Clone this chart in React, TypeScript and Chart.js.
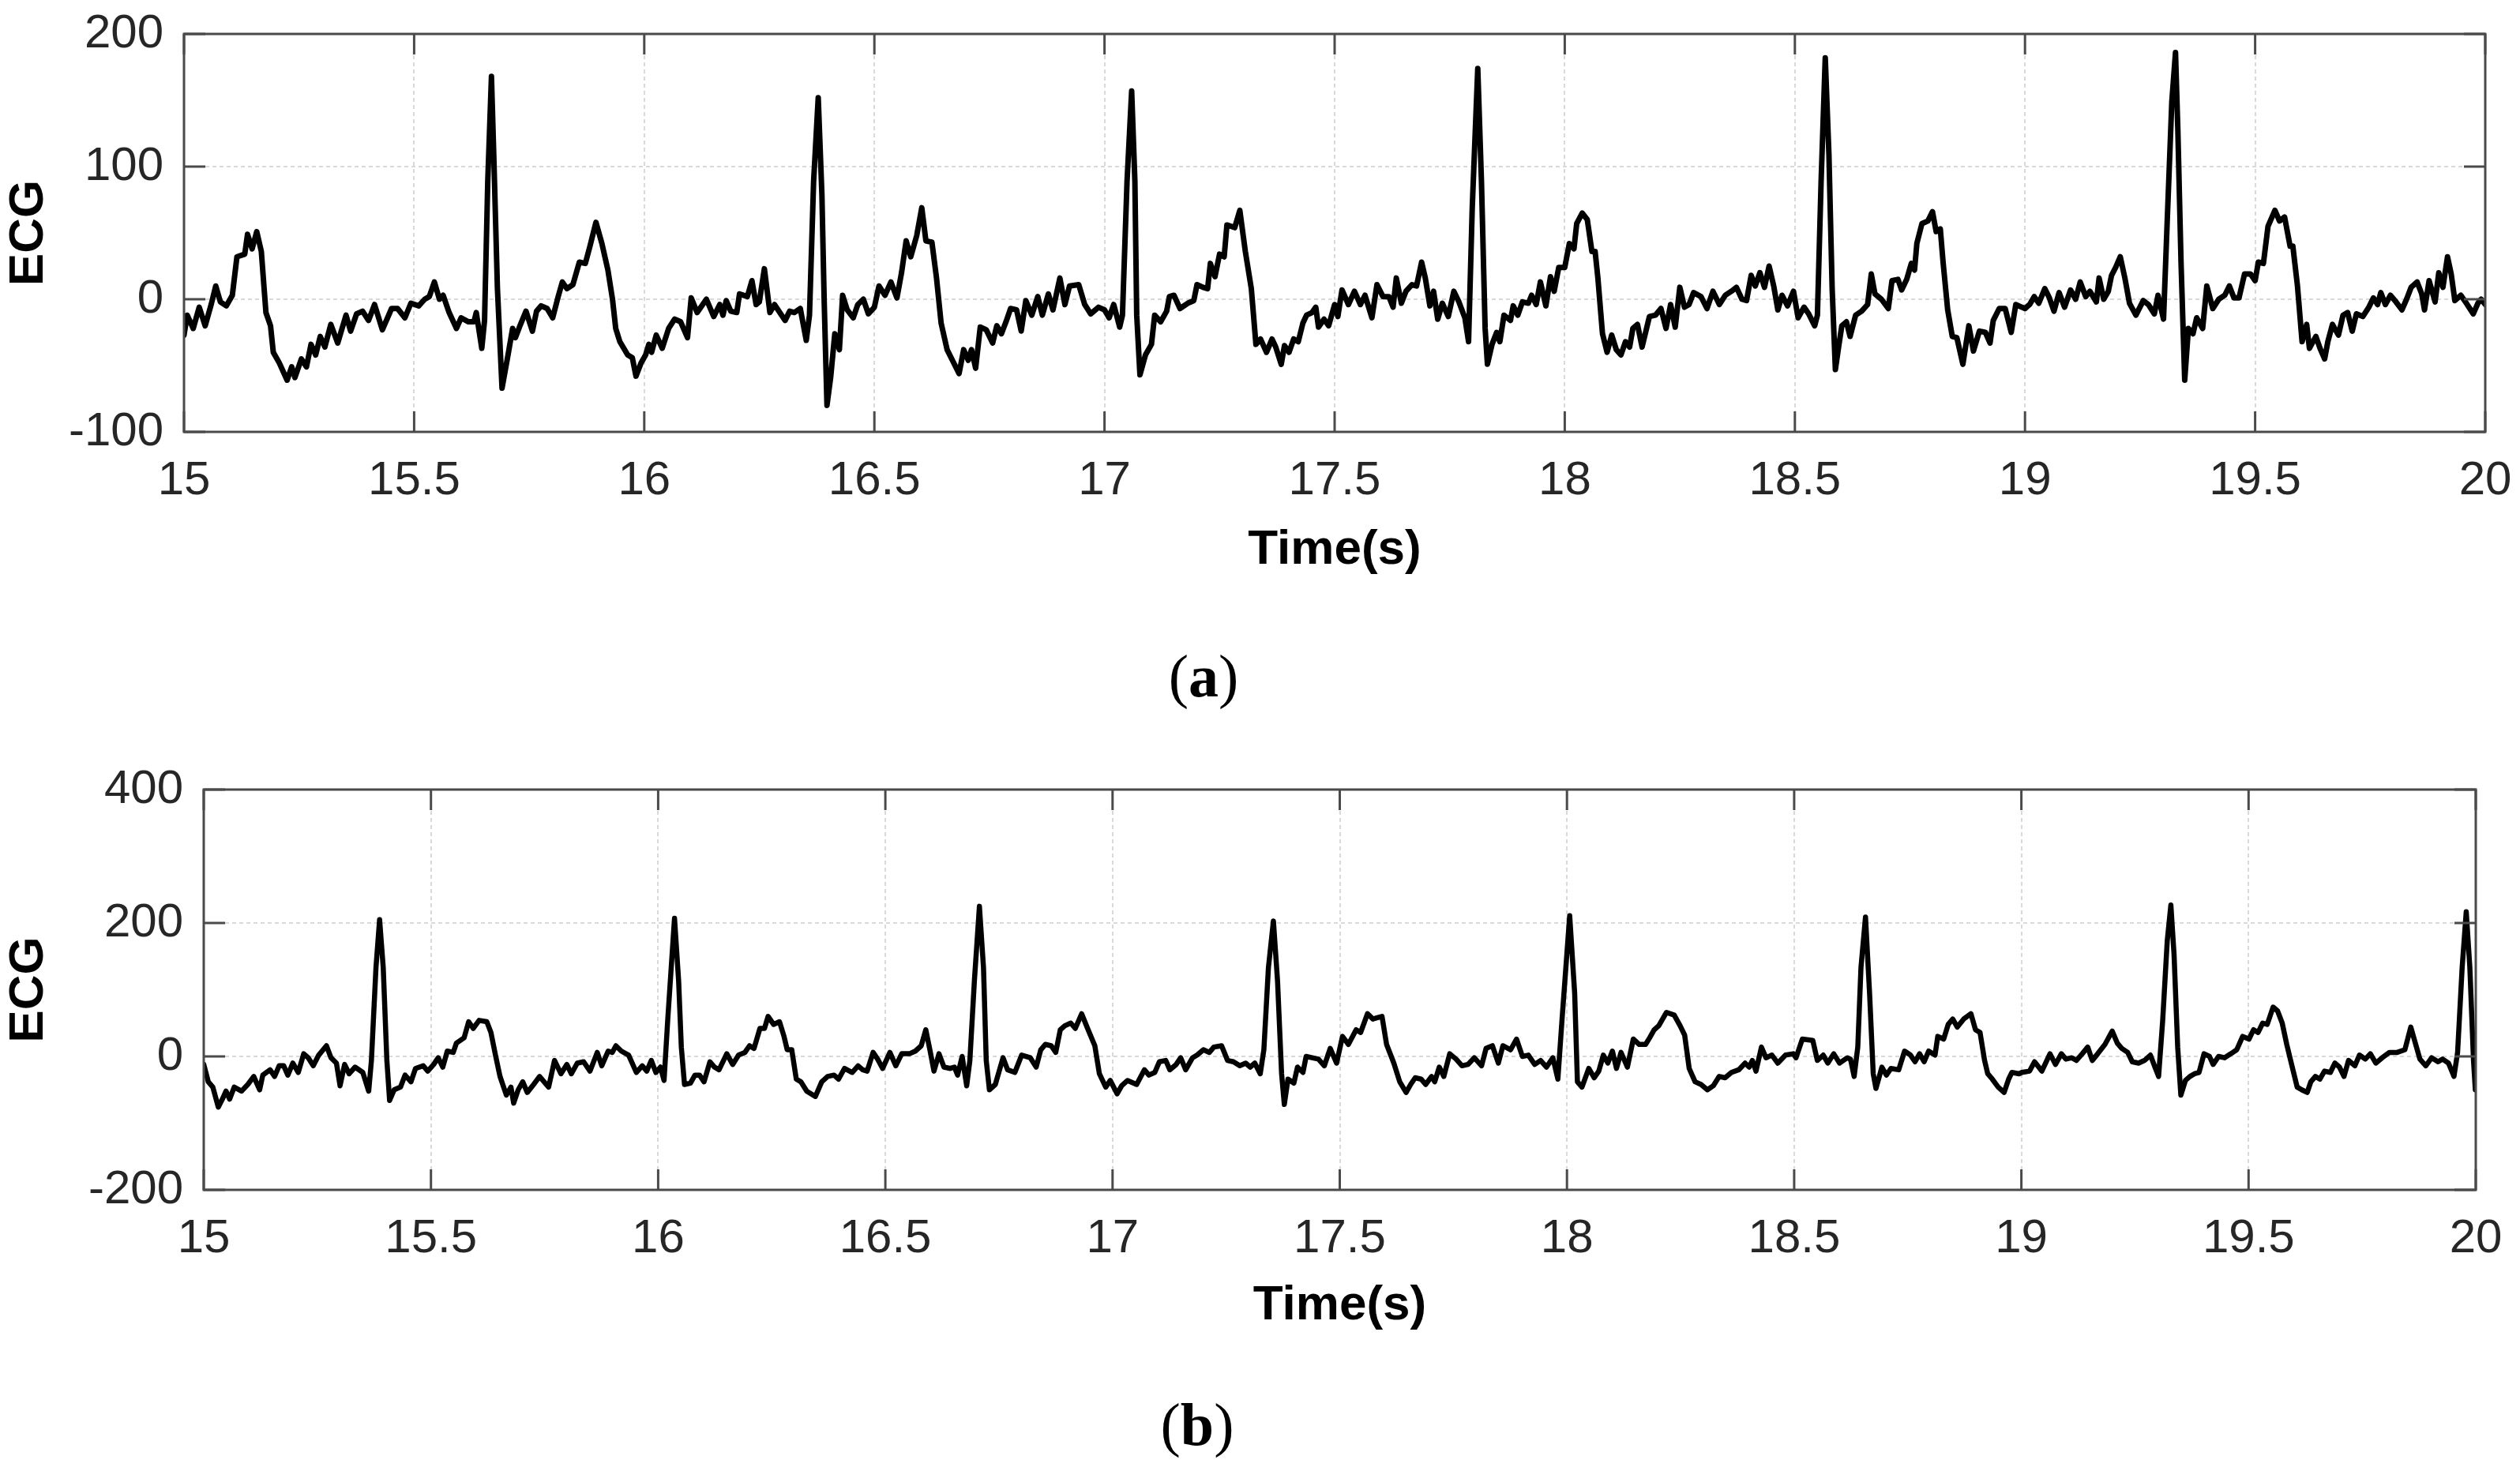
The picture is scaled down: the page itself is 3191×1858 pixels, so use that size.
import React, { useEffect, useRef } from 'react';
import { Chart, registerables } from 'chart.js';

Chart.register(...registerables);

// ECG traces, [time (s), amplitude]
const ecgA15: [number, number][] = [
  [15.000, -27], [15.007, -12], [15.020, -22], [15.033, -6], [15.046, -20], [15.059, -4], [15.069, 10], [15.079, -2],
  [15.092, -5], [15.105, 3], [15.115, 32], [15.132, 34], [15.138, 49], [15.148, 38], [15.158, 51], [15.168, 36],
  [15.178, -10], [15.188, -20], [15.194, -40], [15.207, -48], [15.224, -61], [15.234, -51], [15.241, -59], [15.255, -45],
  [15.266, -51], [15.276, -34], [15.286, -42], [15.296, -28], [15.306, -36], [15.319, -19], [15.334, -33], [15.352, -12],
  [15.362, -24], [15.375, -11], [15.388, -9], [15.401, -16], [15.414, -4], [15.431, -23], [15.451, -7], [15.464, -7],
  [15.480, -14], [15.493, -3], [15.510, -5], [15.523, 0], [15.533, 2], [15.544, 13], [15.555, 0], [15.563, 3],
  [15.576, -10], [15.592, -22], [15.602, -14], [15.618, -17], [15.630, -17], [15.635, -10], [15.647, -37], [15.653, -16],
  [15.660, 89], [15.668, 168], [15.673, 109], [15.681, 8], [15.691, -67], [15.704, -42], [15.714, -22], [15.720, -29],
  [15.730, -20], [15.743, -9], [15.757, -24], [15.766, -9], [15.776, -5], [15.789, -7], [15.801, -14], [15.813, 2],
  [15.822, 13], [15.832, 8], [15.845, 11], [15.859, 28], [15.872, 27], [15.882, 40], [15.895, 58], [15.908, 42],
  [15.921, 22], [15.931, 0], [15.938, -22], [15.947, -32], [15.964, -42], [15.974, -44], [15.982, -58], [15.993, -48],
];
const ecgA16: [number, number][] = [
  [16.003, -42], [16.010, -34], [16.016, -40], [16.026, -27], [16.039, -37], [16.053, -22], [16.066, -15], [16.079, -17],
  [16.094, -29], [16.102, 1], [16.115, -10], [16.135, 0], [16.151, -13], [16.164, -4], [16.171, -12], [16.178, -1],
  [16.188, -9], [16.201, -10], [16.207, 4], [16.224, 2], [16.234, 14], [16.243, -4], [16.250, -2], [16.261, 23],
  [16.273, -10], [16.283, -4], [16.306, -16], [16.316, -9], [16.326, -10], [16.339, -7], [16.352, -31], [16.359, -12],
  [16.368, 89], [16.378, 152], [16.386, 79], [16.391, -2], [16.397, -80], [16.405, -59], [16.414, -26], [16.424, -38],
  [16.431, 3], [16.441, -8], [16.454, -14], [16.464, -4], [16.476, 0], [16.487, -11], [16.500, -6], [16.510, 10],
  [16.523, 3], [16.536, 13], [16.549, 1], [16.559, 20], [16.569, 44], [16.579, 32], [16.592, 48], [16.603, 69],
  [16.612, 44], [16.625, 43], [16.635, 16], [16.645, -18], [16.658, -38], [16.671, -47], [16.684, -56], [16.694, -38],
  [16.704, -46], [16.711, -38], [16.720, -52], [16.730, -21], [16.743, -23], [16.757, -33], [16.766, -20], [16.776, -26],
  [16.786, -17], [16.796, -7], [16.809, -8], [16.819, -24], [16.829, -1], [16.842, -12], [16.855, 2], [16.865, -12],
  [16.878, 4], [16.888, -8], [16.903, 16], [16.914, -4], [16.924, 10], [16.944, 11], [16.957, -4], [16.970, -11],
  [16.987, -6],
];
const ecgA17: [number, number][] = [
  [17.000, -8], [17.010, -14], [17.020, -4], [17.033, -21], [17.039, -12], [17.049, 89], [17.059, 157], [17.066, 89],
  [17.070, -12], [17.077, -57], [17.089, -42], [17.102, -34], [17.109, -12], [17.122, -17], [17.135, -9], [17.141, 2],
  [17.151, 3], [17.164, -7], [17.181, -3], [17.194, -1], [17.201, 11], [17.214, 9], [17.224, 8], [17.230, 27],
  [17.240, 17], [17.250, 34], [17.260, 32], [17.266, 56], [17.283, 54], [17.294, 67], [17.306, 36], [17.319, 8],
  [17.329, -34], [17.339, -30], [17.352, -40], [17.364, -30], [17.372, -36], [17.384, -49], [17.391, -35], [17.401, -40],
  [17.411, -30], [17.421, -32], [17.431, -18], [17.439, -12], [17.451, -10], [17.459, -6], [17.465, -21], [17.477, -15],
  [17.487, -20], [17.500, -4], [17.507, -13], [17.516, 7], [17.530, -4], [17.543, 6], [17.556, -4], [17.566, 3],
  [17.581, -14], [17.592, 11], [17.605, 2], [17.618, 2], [17.627, -6], [17.634, 16], [17.645, -3], [17.655, 6],
  [17.668, 11], [17.678, 10], [17.689, 28], [17.697, 16], [17.707, -5], [17.715, 6], [17.724, -15], [17.734, -3],
  [17.747, -13], [17.759, 6], [17.770, -2], [17.783, -14], [17.791, -32], [17.799, 69], [17.811, 174], [17.819, 89],
  [17.827, -22], [17.832, -49], [17.842, -34], [17.852, -25], [17.859, -32], [17.868, -12], [17.882, -16], [17.888, -5],
  [17.898, -12], [17.908, -2], [17.921, -3], [17.928, 3], [17.938, -4], [17.947, 13], [17.959, -5], [17.969, 17],
  [17.977, 6], [17.987, 24],
];
const ecgA18: [number, number][] = [
  [18.000, 24], [18.010, 42], [18.020, 38], [18.026, 57], [18.038, 65], [18.049, 60], [18.059, 36], [18.066, 36],
  [18.072, 16], [18.082, -26], [18.092, -40], [18.102, -27], [18.112, -38], [18.122, -42], [18.132, -32], [18.141, -36],
  [18.148, -22], [18.158, -19], [18.168, -36], [18.184, -13], [18.197, -12], [18.209, -7], [18.220, -22], [18.230, -4],
  [18.240, -21], [18.250, 9], [18.260, -6], [18.270, -4], [18.280, 5], [18.296, 2], [18.309, -7], [18.322, 6],
  [18.336, -4], [18.349, 3], [18.362, 6], [18.373, 9], [18.385, 0], [18.395, -1], [18.405, 18], [18.414, 10],
  [18.424, 20], [18.434, 9], [18.444, 25], [18.454, 10], [18.463, -8], [18.472, 3], [18.484, -5], [18.497, 6],
  [18.507, -14], [18.520, -6], [18.530, -11], [18.543, -20], [18.549, -12], [18.557, 89], [18.566, 182], [18.574, 109],
  [18.581, 8], [18.588, -53], [18.595, -36], [18.602, -20], [18.612, -17], [18.620, -28], [18.632, -12], [18.645, -9],
  [18.658, -4], [18.666, 19], [18.674, 4], [18.688, 0], [18.703, -7], [18.711, 14], [18.724, 15], [18.732, 7],
  [18.743, 15], [18.753, 27], [18.760, 22], [18.765, 42], [18.776, 57], [18.789, 59], [18.799, 66], [18.807, 51],
  [18.816, 53], [18.822, 28], [18.832, -8], [18.842, -28], [18.852, -29], [18.865, -49], [18.878, -20], [18.888, -39],
  [18.901, -24], [18.914, -25], [18.924, -33], [18.931, -16], [18.944, -7], [18.957, -7], [18.970, -25], [18.980, -4],
  [18.993, -6],
];
const ecgA19: [number, number][] = [
  [19.000, -7], [19.010, -4], [19.020, 2], [19.030, -3], [19.043, 8], [19.053, 1], [19.063, -9], [19.074, 5],
  [19.086, -6], [19.099, 7], [19.110, 0], [19.120, 13], [19.132, 2], [19.141, 6], [19.155, -2], [19.161, 16],
  [19.171, 0], [19.181, 6], [19.188, 18], [19.197, 24], [19.207, 32], [19.217, 16], [19.227, -3], [19.241, -12],
  [19.257, -1], [19.268, -4], [19.281, -11], [19.289, 3], [19.301, -15], [19.309, 59], [19.319, 149], [19.327, 186],
  [19.332, 129], [19.339, 28], [19.347, -61], [19.355, -22], [19.365, -26], [19.373, -14], [19.386, -22], [19.395, 10],
  [19.408, -7], [19.421, 0], [19.434, 3], [19.444, 10], [19.454, 1], [19.465, 1], [19.477, 19], [19.490, 19],
  [19.500, 14], [19.507, 28], [19.518, 27], [19.528, 55], [19.543, 67], [19.553, 59], [19.564, 62], [19.576, 40],
  [19.582, 40], [19.592, 10], [19.602, -32], [19.612, -19], [19.618, -37], [19.632, -28], [19.641, -37], [19.651, -45],
  [19.658, -32], [19.668, -19], [19.681, -27], [19.691, -12], [19.701, -10], [19.711, -24], [19.720, -11], [19.734, -13],
  [19.747, -6], [19.757, 1], [19.766, -4], [19.773, 5], [19.783, -4], [19.794, 3], [19.806, -2], [19.819, -8],
  [19.829, 0], [19.839, 9], [19.852, 13], [19.862, 4], [19.868, -8], [19.878, 14], [19.891, -2], [19.899, 20],
  [19.908, 9], [19.918, 32], [19.926, 19], [19.934, -1], [19.947, 3], [19.959, -3], [19.974, -11], [19.984, -3],
  [19.991, 0], [20.000, -4],
];

const ecgB15: [number, number][] = [
  [15.000, -12], [15.010, -38], [15.020, -46], [15.032, -76], [15.041, -64], [15.049, -52], [15.057, -64], [15.067, -46],
  [15.083, -52], [15.097, -42], [15.110, -30], [15.123, -50], [15.130, -28], [15.146, -20], [15.156, -30], [15.166, -14],
  [15.176, -14], [15.185, -28], [15.196, -10], [15.208, -24], [15.220, 4], [15.230, -2], [15.241, -14], [15.253, 2],
  [15.270, 16], [15.280, -2], [15.292, -10], [15.300, -44], [15.310, -12], [15.320, -26], [15.333, -16], [15.350, -24],
  [15.363, -52], [15.369, -6], [15.379, 133], [15.387, 205], [15.395, 133], [15.403, -6], [15.409, -66], [15.419, -50],
  [15.433, -46], [15.443, -28], [15.456, -38], [15.466, -18], [15.483, -14], [15.493, -22], [15.506, -12], [15.516, -2],
  [15.526, -16], [15.536, 8], [15.549, 6], [15.556, 20], [15.573, 28], [15.583, 52], [15.593, 42], [15.606, 54],
  [15.623, 52], [15.632, 36], [15.642, 2], [15.652, -30], [15.666, -58], [15.676, -46], [15.682, -70], [15.692, -50],
  [15.702, -38], [15.712, -54], [15.726, -42], [15.739, -30], [15.759, -46], [15.772, -6], [15.786, -26], [15.799, -12],
  [15.809, -26], [15.822, -10], [15.836, -8], [15.850, -22], [15.866, 6], [15.876, -14], [15.890, 8], [15.899, 6],
  [15.907, 16], [15.919, 8], [15.935, 2], [15.952, -24], [15.965, -14], [15.975, -22], [15.985, -6], [15.995, -24],
];
const ecgB16: [number, number][] = [
  [16.005, -16], [16.013, -36], [16.021, 54], [16.036, 207], [16.045, 114], [16.051, 14], [16.058, -42], [16.071, -40],
  [16.081, -28], [16.091, -28], [16.101, -38], [16.114, -8], [16.124, -16], [16.134, -20], [16.151, 4], [16.164, -12],
  [16.177, 2], [16.191, 6], [16.201, 16], [16.211, 12], [16.224, 42], [16.234, 42], [16.242, 60], [16.254, 48],
  [16.267, 52], [16.277, 30], [16.284, 10], [16.294, 10], [16.304, -34], [16.314, -38], [16.327, -52], [16.346, -60],
  [16.360, -38], [16.373, -30], [16.387, -28], [16.397, -34], [16.410, -18], [16.427, -24], [16.440, -14], [16.450, -20],
  [16.460, -22], [16.473, 6], [16.483, -4], [16.494, -18], [16.510, 6], [16.523, -14], [16.536, 4], [16.553, 4],
  [16.566, 8], [16.579, 16], [16.589, 40], [16.598, 10], [16.607, -22], [16.618, 4], [16.629, -16], [16.643, -18],
  [16.652, -16], [16.659, -28], [16.669, 0], [16.679, -44], [16.686, -6], [16.696, 114], [16.707, 225], [16.716, 133],
  [16.722, -6], [16.729, -50], [16.742, -42], [16.759, -2], [16.769, -20], [16.785, -24], [16.800, 2], [16.819, -2],
  [16.832, -16], [16.842, 10], [16.852, 18], [16.865, 16], [16.875, 6], [16.885, 40], [16.895, 46], [16.908, 50],
  [16.918, 42], [16.932, 64], [16.945, 42], [16.961, 16], [16.971, -26], [16.985, -46], [16.995, -36],
];
const ecgB17: [number, number][] = [
  [17.010, -56], [17.020, -44], [17.033, -36], [17.053, -42], [17.070, -20], [17.080, -28], [17.093, -24], [17.103, -8],
  [17.117, -6], [17.126, -20], [17.140, -12], [17.150, -2], [17.161, -20], [17.176, -2], [17.186, 2], [17.200, 10],
  [17.213, 6], [17.223, 14], [17.240, 16], [17.253, -6], [17.266, -8], [17.280, -14], [17.293, -10], [17.303, -16],
  [17.313, -10], [17.325, -26], [17.333, 10], [17.343, 133], [17.354, 203], [17.363, 114], [17.372, -26], [17.378, -72],
  [17.386, -34], [17.399, -40], [17.407, -16], [17.419, -24], [17.426, 0], [17.439, -2], [17.453, -4], [17.466, -14],
  [17.479, 12], [17.493, -10], [17.506, 30], [17.519, 18], [17.536, 40], [17.546, 36], [17.561, 64], [17.573, 56],
  [17.583, 58], [17.593, 60], [17.603, 18], [17.619, -10], [17.632, -38], [17.646, -54], [17.656, -42], [17.666, -32],
  [17.679, -34], [17.689, -42], [17.702, -30], [17.709, -38], [17.719, -16], [17.729, -30], [17.742, 4], [17.756, -4],
  [17.769, -14], [17.782, -12], [17.796, -2], [17.812, -14], [17.822, 12], [17.836, 16], [17.849, -10], [17.859, 16],
  [17.876, 10], [17.889, 26], [17.902, 0], [17.915, 2], [17.929, -12], [17.942, -6], [17.955, -16], [17.969, -2],
  [17.980, -34], [17.989, 54],
];
const ecgB18: [number, number][] = [
  [18.006, 211], [18.017, 94], [18.023, -38], [18.033, -46], [18.048, -18], [18.060, -32], [18.070, -22], [18.080, 2],
  [18.090, -10], [18.100, 8], [18.109, -18], [18.119, 6], [18.133, -16], [18.146, 26], [18.159, 18], [18.173, 18],
  [18.182, 28], [18.192, 40], [18.202, 46], [18.219, 66], [18.236, 62], [18.249, 46], [18.259, 32], [18.269, -18],
  [18.282, -38], [18.295, -42], [18.309, -50], [18.322, -44], [18.335, -30], [18.348, -32], [18.362, -24], [18.378, -20],
  [18.392, -10], [18.401, -16], [18.408, -6], [18.416, -22], [18.428, 14], [18.438, -2], [18.451, 2], [18.464, -10],
  [18.481, 2], [18.498, 4], [18.504, -2], [18.518, 26], [18.541, 24], [18.551, -6], [18.564, 2], [18.574, -10],
  [18.587, 4], [18.600, -10], [18.617, -2], [18.624, -4], [18.632, -30], [18.640, 14], [18.647, 133], [18.657, 209],
  [18.666, 94], [18.674, -26], [18.680, -48], [18.693, -16], [18.703, -28], [18.713, -18], [18.730, -20], [18.743, 8],
  [18.756, 2], [18.766, -8], [18.776, 4], [18.786, -8], [18.796, 8], [18.810, 2], [18.816, 30], [18.829, 26],
  [18.839, 48], [18.849, 56], [18.859, 44], [18.873, 56], [18.889, 64], [18.899, 40], [18.909, 36], [18.919, -6],
  [18.926, -26], [18.936, -34], [18.949, -46], [18.962, -54], [18.972, -34], [18.979, -24], [18.995, -26],
];
const ecgB19: [number, number][] = [
  [19.001, -24], [19.018, -22], [19.029, -8], [19.045, -22], [19.063, 4], [19.075, -12], [19.088, 4], [19.098, -4],
  [19.111, -2], [19.121, -6], [19.134, 4], [19.146, 14], [19.156, -6], [19.168, 4], [19.184, 18], [19.200, 38],
  [19.211, 20], [19.221, 12], [19.234, 6], [19.244, -8], [19.258, -10], [19.271, -6], [19.284, 2], [19.294, -16],
  [19.302, -30], [19.311, 54], [19.321, 173], [19.329, 227], [19.336, 153], [19.344, 14], [19.351, -58], [19.361, -36],
  [19.371, -30], [19.381, -26], [19.391, -24], [19.402, 4], [19.414, 0], [19.422, -12], [19.434, 0], [19.447, -2],
  [19.461, 4], [19.474, 10], [19.487, 30], [19.501, 26], [19.511, 40], [19.521, 36], [19.531, 50], [19.541, 48],
  [19.554, 74], [19.564, 68], [19.574, 50], [19.584, 18], [19.594, -10], [19.607, -46], [19.617, -50], [19.629, -54],
  [19.637, -38], [19.647, -30], [19.657, -34], [19.667, -22], [19.680, -24], [19.690, -10], [19.700, -16], [19.710, -30],
  [19.720, -6], [19.734, -14], [19.744, 2], [19.757, -4], [19.768, 4], [19.780, -10], [19.794, -2], [19.810, 6],
  [19.827, 6], [19.844, 10], [19.857, 44], [19.867, 20], [19.877, -4], [19.890, -14], [19.903, -2], [19.917, -8],
  [19.927, -4], [19.940, -10], [19.952, -30], [19.960, 6], [19.970, 133], [19.979, 217], [19.987, 133], [19.995, -6],
  [19.999, -50],
];

const timeTicks = [15, 15.5, 16, 16.5, 17, 17.5, 18, 18.5, 19, 19.5, 20];
const ecgTicksA = [-100, 0, 100, 200];
const ecgTicksB = [-200, 0, 200, 400];

const seriesA = [...ecgA15, ...ecgA16, ...ecgA17, ...ecgA18, ...ecgA19];
const seriesB = [...ecgB15, ...ecgB16, ...ecgB17, ...ecgB18, ...ecgB19];

const TICK_FONT = { family: "'Liberation Sans', Arial, sans-serif", size: 60 };
const TITLE_FONT = { family: "'Liberation Sans', Arial, sans-serif", size: 62, weight: 'bold' as const };
const INK = '#262626';

// box around the plot with MATLAB-style inward tick marks on all four sides
const framePlugin = {
  id: 'frame',
  afterDatasetsDraw(chart: any) {
    const { ctx, chartArea: a, scales } = chart;
    const seg = (x1: number, y1: number, x2: number, y2: number) => {
      ctx.beginPath();
      ctx.moveTo(x1, y1);
      ctx.lineTo(x2, y2);
      ctx.stroke();
    };
    ctx.save();
    ctx.strokeStyle = '#4a4a4a';
    ctx.lineWidth = 3;
    ctx.strokeRect(a.left, a.top, a.right - a.left, a.bottom - a.top);
    scales.x.ticks.forEach((t: any) => {
      const px = scales.x.getPixelForValue(t.value);
      seg(px, a.bottom, px, a.bottom - 26);
      seg(px, a.top, px, a.top + 26);
    });
    scales.y.ticks.forEach((t: any) => {
      const py = scales.y.getPixelForValue(t.value);
      seg(a.left, py, a.left + 27, py);
      seg(a.right, py, a.right - 27, py);
    });
    ctx.restore();
  },
};

interface PanelProps {
  series: [number, number][];
  yTicks: number[];
  top: number;
  height: number;
  plotTop: number;
  plotBottom: number;
  plotLeft: number;
  plotRight: number;
  lineWidth: number;
}

const EcgPanel: React.FC<PanelProps> = ({ series, yTicks, top, height, plotTop, plotBottom, plotLeft, plotRight, lineWidth }) => {
  const canvasRef = useRef<HTMLCanvasElement | null>(null);

  useEffect(() => {
    if (!canvasRef.current) return;
    const ctx = canvasRef.current.getContext('2d');
    if (!ctx) return;

    const chart = new Chart(ctx, {
      type: 'line',
      data: {
        datasets: [
          {
            data: series.map(([t, v]) => ({ x: t, y: v })),
            borderColor: '#000',
            borderWidth: lineWidth,
            pointRadius: 0,
            tension: 0,
            borderJoinStyle: 'round',
            borderCapStyle: 'round',
          },
        ],
      },
      options: {
        animation: false,
        responsive: false,
        devicePixelRatio: 1,
        events: [],
        layout: {
          padding: { top: plotTop - top, right: 3191 - plotRight, left: 0, bottom: 0 },
        },
        plugins: {
          legend: { display: false },
          tooltip: { enabled: false },
        },
        scales: {
          x: {
            type: 'linear',
            min: timeTicks[0],
            max: timeTicks[timeTicks.length - 1],
            afterBuildTicks: (s: any) => {
              s.ticks = timeTicks.map((v) => ({ value: v }));
            },
            afterFit: (s: any) => {
              s.height = top + height - plotBottom;
              // labels may hang past the plot edges, like in the figure
              s.paddingLeft = 0;
              s.paddingRight = 0;
            },
            ticks: {
              color: INK,
              font: TICK_FONT,
              padding: 26,
              maxRotation: 0,
              autoSkip: false,
              callback: (v: any) => String(v),
            },
            grid: { color: '#d9d9d9', lineWidth: 2, drawTicks: false },
            border: { display: false, dash: [5, 4] },
            title: { display: true, text: 'Time(s)', color: '#000', font: TITLE_FONT, padding: { top: 0, bottom: 0 } },
          },
          y: {
            type: 'linear',
            min: yTicks[0],
            max: yTicks[yTicks.length - 1],
            afterBuildTicks: (s: any) => {
              s.ticks = yTicks.map((v) => ({ value: v }));
            },
            afterFit: (s: any) => {
              s.width = plotLeft;
              s.paddingTop = 0;
              s.paddingBottom = 0;
            },
            ticks: { color: INK, font: TICK_FONT, padding: 26, callback: (v: any) => String(v) },
            grid: { color: '#d9d9d9', lineWidth: 2, drawTicks: false },
            border: { display: false, dash: [5, 4] },
            title: { display: true, text: 'ECG', color: '#000', font: TITLE_FONT, padding: { top: 0, bottom: 0 } },
          },
        },
      },
      plugins: [framePlugin],
    });

    return () => {
      chart.destroy();
    };
  }, [series, yTicks, top, height, plotTop, plotBottom, plotLeft, plotRight, lineWidth]);

  return (
    <canvas
      ref={canvasRef}
      width={3191}
      height={height}
      style={{ position: 'absolute', left: 0, top, width: 3191, height }}
    />
  );
};

const captionStyle: React.CSSProperties = {
  position: 'absolute',
  width: 200,
  textAlign: 'center',
  fontFamily: "'Liberation Serif', 'Times New Roman', serif",
  fontSize: 76,
  lineHeight: '76px',
  color: '#000',
};

export default function App() {
  useEffect(() => {
    document.body.style.margin = '0';
  }, []);

  return (
    <div style={{ position: 'absolute', left: 0, top: 0, width: 3191, height: 1858, background: '#fff', overflow: 'hidden' }}>
      <EcgPanel
        series={seriesA}
        yTicks={ecgTicksA}
        top={0}
        height={734}
        plotTop={43}
        plotBottom={547}
        plotLeft={233}
        plotRight={3147}
        lineWidth={7}
      />
      <div style={{ ...captionStyle, left: 1424, top: 818 }}>
        (<b>a</b>)
      </div>
      <EcgPanel
        series={seriesB}
        yTicks={ecgTicksB}
        top={760}
        height={931}
        plotTop={1000}
        plotBottom={1507}
        plotLeft={258}
        plotRight={3135}
        lineWidth={6.5}
      />
      <div style={{ ...captionStyle, left: 1416, top: 1766 }}>
        (<b>b</b>)
      </div>
    </div>
  );
}
